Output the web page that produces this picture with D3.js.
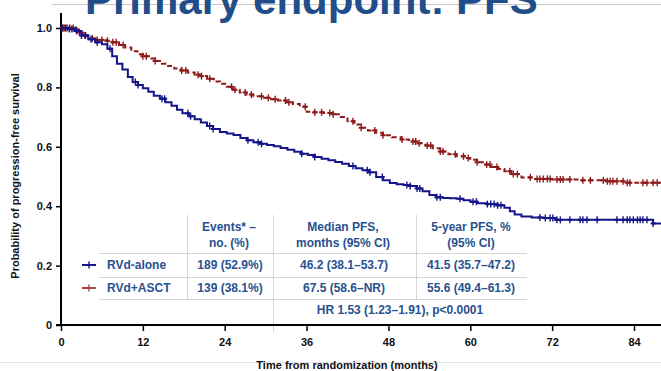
<!DOCTYPE html>
<html>
<head>
<meta charset="utf-8">
<script src="https://cdn.jsdelivr.net/npm/d3@7"></script>
<style>
  html, body { margin: 0; padding: 0; background: #fff; }
  svg { display: block; }
  text { font-family: "Liberation Sans", Arial, sans-serif; }
</style>
</head>
<body>
<svg id="chart" width="661" height="371"></svg>
<script>
// Kaplan–Meier progression-free survival, two arms
const xTicks = [0, 12, 24, 36, 48, 60, 72, 84];
const yTicks = [0, 0.2, 0.4, 0.6, 0.8, 1.0];
const yTickLabels = ["0", "0.2", "0.4", "0.6", "0.8", "1.0"];
const followUpEnd = 88;

// RVd-alone: event times (months) and survival after each step
const aloneTimes = [0, 1.0, 2.0, 3.0, 4.0, 5.0, 6.0, 6.8, 7.5, 8.2, 9.0, 9.8, 10.5, 11.3, 12.0, 12.8, 13.6, 14.5, 15.3, 16.2, 17.0, 17.8, 18.7, 19.6, 20.5, 21.4, 22.3, 23.3, 24.3, 25.3, 26.3, 27.3, 28.2, 29.2, 30.2, 31.2, 32.2, 33.2, 34.2, 35.2, 36.2, 37.2, 38.2, 39.2, 40.2, 41.2, 42.2, 43.2, 44.2, 45.2, 46.2, 47.2, 48.2, 49.2, 50.2, 51.2, 52.2, 53.0, 54.0, 55.0, 56.0, 57.0, 58.0, 59.0, 60.0, 61.0, 62.5, 64.0, 65.0, 65.8, 66.5, 67.5, 69.0, 70.7, 72.5, 86.8];
const aloneSurv = [1.000, 0.997, 0.990, 0.975, 0.962, 0.952, 0.945, 0.930, 0.905, 0.880, 0.860, 0.835, 0.818, 0.808, 0.797, 0.785, 0.772, 0.762, 0.750, 0.738, 0.725, 0.713, 0.703, 0.693, 0.682, 0.670, 0.660, 0.650, 0.645, 0.640, 0.630, 0.622, 0.615, 0.610, 0.606, 0.602, 0.596, 0.590, 0.583, 0.577, 0.572, 0.566, 0.560, 0.555, 0.549, 0.543, 0.535, 0.528, 0.521, 0.514, 0.498, 0.487, 0.478, 0.474, 0.471, 0.468, 0.460, 0.450, 0.438, 0.430, 0.428, 0.427, 0.425, 0.420, 0.415, 0.410, 0.407, 0.403, 0.395, 0.383, 0.372, 0.365, 0.362, 0.360, 0.354, 0.342];
const aloneCensored = [0.3, 0.7, 1.2, 1.6, 2.3, 3.0, 3.6, 4.4, 5.3, 7.2, 10.9, 11.3, 14.8, 15.2, 18.6, 19.0, 21.8, 22.3, 27.4, 28.9, 29.4, 35.3, 37.2, 42.8, 44.9, 45.3, 47.1, 50.7, 51.2, 52.2, 52.6, 55.1, 55.6, 58.5, 60.4, 60.9, 62.5, 63.0, 63.5, 64.0, 64.5, 70.2, 71.0, 71.7, 72.1, 72.7, 73.2, 74.6, 76.1, 76.5, 77.1, 78.6, 81.5, 82.4, 83.0, 83.4, 83.9, 84.5, 84.9, 85.3, 85.9, 86.8];

// RVd+ASCT
const asctTimes = [0, 2.0, 2.6, 3.2, 4.0, 5.0, 6.5, 7.5, 8.5, 9.4, 10.3, 11.2, 12.0, 12.9, 13.8, 14.8, 15.7, 16.6, 17.6, 18.6, 19.6, 20.5, 21.4, 22.4, 23.3, 24.3, 25.2, 26.2, 27.2, 28.2, 29.5, 30.8, 31.8, 33.0, 34.0, 35.0, 36.0, 37.0, 38.5, 39.9, 41.0, 42.0, 43.0, 44.0, 45.0, 46.2, 47.2, 48.5, 49.8, 51.0, 52.2, 53.4, 54.5, 55.6, 56.8, 58.0, 59.2, 60.0, 61.0, 62.0, 63.0, 64.0, 65.0, 66.0, 67.5, 69.0, 72.0, 76.0, 80.0, 82.5];
const asctSurv = [1.000, 0.995, 0.985, 0.975, 0.965, 0.960, 0.957, 0.952, 0.943, 0.934, 0.922, 0.912, 0.905, 0.897, 0.889, 0.880, 0.872, 0.864, 0.857, 0.850, 0.843, 0.838, 0.829, 0.820, 0.812, 0.802, 0.792, 0.783, 0.776, 0.770, 0.765, 0.760, 0.756, 0.750, 0.744, 0.735, 0.718, 0.716, 0.714, 0.710, 0.700, 0.686, 0.675, 0.664, 0.655, 0.647, 0.639, 0.632, 0.625, 0.618, 0.612, 0.604, 0.595, 0.584, 0.575, 0.568, 0.562, 0.556, 0.548, 0.540, 0.532, 0.525, 0.518, 0.508, 0.497, 0.492, 0.490, 0.487, 0.484, 0.479];
const asctCensored = [0.2, 0.5, 0.9, 1.3, 1.8, 2.2, 2.7, 3.5, 4.6, 5.3, 6.0, 6.8, 7.6, 8.1, 9.1, 12.0, 12.5, 13.8, 17.7, 18.3, 20.1, 20.6, 21.8, 25.0, 25.5, 27.0, 27.9, 29.4, 30.4, 31.4, 32.9, 33.4, 35.8, 37.2, 38.2, 39.4, 39.9, 42.8, 44.0, 46.0, 47.2, 50.0, 51.6, 52.0, 52.5, 53.7, 54.2, 55.6, 56.0, 57.8, 59.0, 59.7, 61.0, 62.4, 62.9, 63.9, 65.8, 66.3, 66.9, 68.8, 69.8, 70.2, 70.7, 71.3, 71.7, 72.7, 73.2, 73.6, 74.6, 76.5, 77.6, 79.5, 80.1, 80.5, 80.9, 81.5, 82.4, 83.0, 83.4, 85.3, 85.9, 86.8, 87.4];

// Summary table
const armNames = ["RVd-alone", "RVd+ASCT"];
const eventsCol = ["189 (52.9%)", "139 (38.1%)"];
const medianCol = ["46.2 (38.1–53.7)", "67.5 (58.6–NR)"];
const fiveYearCol = ["41.5 (35.7–47.2)", "55.6 (49.4–61.3)"];
const headerEvents = ["Events* –", "no. (%)"];
const headerMedian = ["Median PFS,", "months (95% CI)"];
const headerFive = ["5-year PFS, %", "(95% CI)"];
const hazardText = "HR 1.53 (1.23–1.91), p<0.0001";

const BLUE = "#15158a";
const RED = "#8e1a1a";
const TXT = "#28518f";
const RULE = "#d6d6d6";

const svg = d3.select("#chart");
const x = d3.scaleLinear().domain([0, 84]).range([61, 634]);
const y = d3.scaleLinear().domain([0, 1]).range([325, 28]);

// Title banner
svg.append("line").attr("x1", 52).attr("x2", 661).attr("y1", 4.5).attr("y2", 4.5)
  .attr("stroke", "#c8c8c8").attr("stroke-width", 1);
svg.append("text").attr("x", 85).attr("y", 14)
  .attr("font-size", 42).attr("font-weight", "bold").attr("fill", "#1f4e8a")
  .text("Primary endpoint: PFS");

// Bottom rule
svg.append("line").attr("x1", 0).attr("x2", 661).attr("y1", 362.5).attr("y2", 362.5)
  .attr("stroke", "#e4e4e4").attr("stroke-width", 1);

// Table rules
const tableLeft = 99, tableRight = 527;
[253, 277, 299].forEach(yy => {
  svg.append("line").attr("x1", tableLeft).attr("x2", tableRight)
    .attr("y1", yy + 0.5).attr("y2", yy + 0.5).attr("stroke", RULE).attr("stroke-width", 1);
});
[[187, 215, 299], [273, 215, 332], [416, 215, 299]].forEach(([xx, y1, y2]) => {
  svg.append("line").attr("x1", xx + 0.5).attr("x2", xx + 0.5)
    .attr("y1", y1).attr("y2", y2).attr("stroke", RULE).attr("stroke-width", 1);
});

// Axes
const xAxis = d3.axisBottom(x).tickValues(xTicks).tickSize(6).tickSizeOuter(0).tickFormat(d3.format("d"));
const gx = svg.append("g").attr("transform", "translate(0,325)").call(xAxis);
gx.select(".domain").remove();
gx.selectAll(".tick line").attr("stroke", "#000").attr("stroke-width", 1.5);
gx.selectAll(".tick text").attr("y", 13).attr("font-size", 11).attr("font-weight", "bold")
  .attr("fill", "#111").style("font-family", "'Liberation Sans', Arial, sans-serif");
svg.append("line").attr("x1", 56).attr("x2", 661).attr("y1", 325).attr("y2", 325)
  .attr("stroke", "#000").attr("stroke-width", 2);

const yAxis = d3.axisLeft(y).tickValues(yTicks).tickSize(5).tickSizeOuter(0)
  .tickFormat((d, i) => yTickLabels[i]);
const gy = svg.append("g").attr("transform", "translate(61,0)").call(yAxis);
gy.select(".domain").remove();
gy.selectAll(".tick line").attr("stroke", "#000").attr("stroke-width", 1.5);
gy.selectAll(".tick text").attr("x", -9).attr("font-size", 11).attr("font-weight", "bold")
  .attr("fill", "#111").style("font-family", "'Liberation Sans', Arial, sans-serif");
svg.append("line").attr("x1", 61).attr("x2", 61).attr("y1", 13).attr("y2", 326)
  .attr("stroke", "#000").attr("stroke-width", 2);

// Axis titles
svg.append("text").attr("x", 347).attr("y", 369).attr("text-anchor", "middle")
  .attr("font-size", 11).attr("font-weight", "bold").attr("fill", "#111")
  .text("Time from randomization (months)");
svg.append("text").attr("transform", "translate(19,176) rotate(-90)").attr("text-anchor", "middle")
  .attr("font-size", 11).attr("font-weight", "bold").attr("fill", "#111")
  .text("Probability of progression-free survival");

// Survival curves
function steps(times, surv) {
  const pts = times.map((t, i) => [t, surv[i]]);
  pts.push([followUpEnd, surv[surv.length - 1]]);
  return pts;
}
function survAt(times, surv, t) {
  const i = d3.bisectRight(times, t) - 1;
  return surv[Math.max(0, i)];
}
const line = d3.line().x(d => x(d[0])).y(d => y(d[1])).curve(d3.curveStepAfter);

const arms = [
  { times: asctTimes, surv: asctSurv, cens: asctCensored, color: RED, dash: "5,3" },
  { times: aloneTimes, surv: aloneSurv, cens: aloneCensored, color: BLUE, dash: null }
];

arms.forEach(a => {
  svg.append("path").datum(steps(a.times, a.surv))
    .attr("d", line).attr("fill", "none").attr("stroke", a.color)
    .attr("stroke-width", 2).attr("stroke-dasharray", a.dash);
  svg.append("g").selectAll("line").data(a.cens).join("line")
    .attr("x1", d => x(d)).attr("x2", d => x(d))
    .attr("y1", d => y(survAt(a.times, a.surv, d)) - 3.5)
    .attr("y2", d => y(survAt(a.times, a.surv, d)) + 3.5)
    .attr("stroke", a.color).attr("stroke-width", 1.4);
  svg.append("g").selectAll("line").data(a.cens).join("line")
    .attr("x1", d => x(d) - 2.5).attr("x2", d => x(d) + 2.5)
    .attr("y1", d => y(survAt(a.times, a.surv, d)))
    .attr("y2", d => y(survAt(a.times, a.surv, d)))
    .attr("stroke", a.color).attr("stroke-width", 2);
});

// Table text
function cell(txt, cx, cy, anchor) {
  svg.append("text").attr("x", cx).attr("y", cy).attr("text-anchor", anchor || "middle")
    .attr("font-size", 12).attr("font-weight", "bold").attr("fill", TXT).text(txt);
}
[[headerEvents, 229], [headerMedian, 343], [headerFive, 471]].forEach(([h, cx]) => {
  cell(h[0], cx, 231);
  cell(h[1], cx, 247);
});
const rowY = [269, 292];
const legendColors = [BLUE, "#a04848"];
rowY.forEach((ry, i) => {
  const my = ry - 4;
  svg.append("line").attr("x1", 82).attr("x2", 96).attr("y1", my).attr("y2", my)
    .attr("stroke", legendColors[i]).attr("stroke-width", 2);
  svg.append("line").attr("x1", 89).attr("x2", 89).attr("y1", my - 3.5).attr("y2", my + 3.5)
    .attr("stroke", legendColors[i]).attr("stroke-width", 1.4);
  cell(armNames[i], 107, ry, "start");
  cell(eventsCol[i], 230, ry);
  cell(medianCol[i], 344, ry);
  cell(fiveYearCol[i], 471, ry);
});
cell(hazardText, 400, 314);
</script>
</body>
</html>
